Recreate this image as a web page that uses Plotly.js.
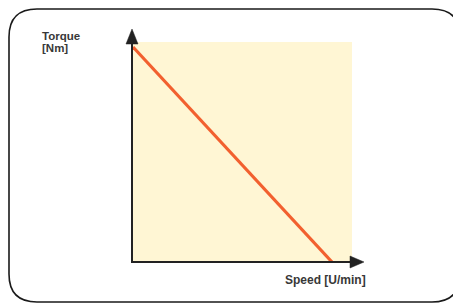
<!DOCTYPE html>
<html>
<head>
<meta charset="utf-8">
<script src="https://cdn.plot.ly/plotly-3.0.1.min.js"></script>
<style>html,body{margin:0;padding:0;background:#fff;}#chart{width:453px;height:303px;}</style>
</head>
<body>
<div id="chart"></div>
<script>
// Data
const speed = [0, 100];      // U/min (relative)
const torque = [100, 0];     // Nm (relative)
const xTitle = 'Speed [U/min]';
const yTitleLines = ['Torque', '[Nm]'];

// Layout geometry (pixels)
const W = 453, H = 303;
const L = 133, R = 352, T = 42, B = 262;
const px = x => (x - L) / (R - L);
const py = y => (B - y) / (B - T);
const P = (x, y) => px(x) + ',' + py(y);

const axisColor = '#222222';
const r = 28, bx0 = 9, by0 = 9, bx1 = 460, by1 = 302;
const boxPath = 'M' + P(bx0 + r, by0) + ' L' + P(bx1 - r, by0) + ' Q' + P(bx1, by0) + ' ' + P(bx1, by0 + r) +
  ' L' + P(bx1, by1 - r) + ' Q' + P(bx1, by1) + ' ' + P(bx1 - r, by1) +
  ' L' + P(bx0 + r, by1) + ' Q' + P(bx0, by1) + ' ' + P(bx0, by1 - r) +
  ' L' + P(bx0, by0 + r) + ' Q' + P(bx0, by0) + ' ' + P(bx0 + r, by0);

const shapes = [
  {type: 'path', xref: 'paper', yref: 'paper', path: boxPath, line: {color: '#1a1a1a', width: 1.6}, layer: 'above'},
  {type: 'line', xref: 'paper', yref: 'paper', x0: px(132), y0: py(263), x1: px(132), y1: py(42), line: {color: axisColor, width: 2}},
  {type: 'path', xref: 'paper', yref: 'paper', path: 'M' + P(126, 44) + ' L' + P(138, 44) + ' L' + P(132, 29) + ' Z', fillcolor: axisColor, line: {color: axisColor, width: 0.5}},
  {type: 'line', xref: 'paper', yref: 'paper', x0: px(131), y0: py(262), x1: px(351), y1: py(262), line: {color: axisColor, width: 2}},
  {type: 'path', xref: 'paper', yref: 'paper', path: 'M' + P(350, 256) + ' L' + P(350, 268) + ' L' + P(364, 262) + ' Z', fillcolor: axisColor, line: {color: axisColor, width: 0.5}}
];

const font = {family: 'Liberation Sans, Arial, sans-serif', color: '#383838'};
const annotations = [
  {xref: 'paper', yref: 'paper', x: px(40), y: py(36), xanchor: 'left', yanchor: 'middle', showarrow: false,
   text: '<b>' + yTitleLines[0] + '</b>', font: Object.assign({size: 11.5}, font)},
  {xref: 'paper', yref: 'paper', x: px(40), y: py(47.5), xanchor: 'left', yanchor: 'middle', showarrow: false,
   text: '<b>' + yTitleLines[1] + '</b>', font: Object.assign({size: 11.5}, font)},
  {xref: 'paper', yref: 'paper', x: px(368), y: py(280), xanchor: 'right', yanchor: 'middle', showarrow: false,
   text: '<b>' + xTitle + '</b>', font: Object.assign({size: 12}, font)}
];

const trace = {
  x: speed, y: torque, type: 'scatter', mode: 'lines',
  line: {color: '#f2602f', width: 3.2}, hoverinfo: 'skip'
};

const layout = {
  width: W, height: H,
  margin: {l: L, r: W - R, t: T, b: H - B, pad: 0},
  paper_bgcolor: '#ffffff',
  plot_bgcolor: '#fff6d4',
  showlegend: false,
  xaxis: {range: [0, 100 * (R - L) / (332 - L)], visible: false, fixedrange: true},
  yaxis: {range: [0, 100 * (B - T) / (B - 47)], visible: false, fixedrange: true},
  shapes: shapes,
  annotations: annotations
};

Plotly.newPlot('chart', [trace], layout, {staticPlot: true, displayModeBar: false});
</script>
</body>
</html>
